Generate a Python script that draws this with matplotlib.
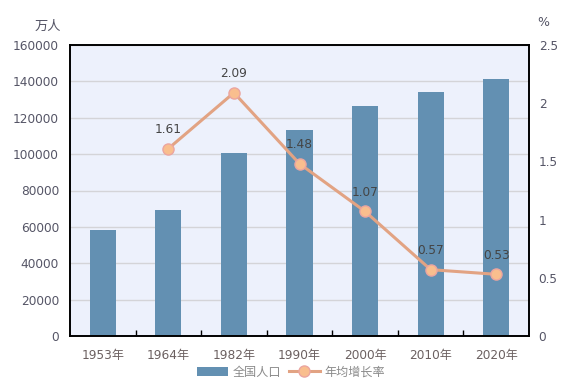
import matplotlib.pyplot as plt
import numpy as np

plt.rcParams['font.family'] = ['DejaVu Sans', 'Noto Sans CJK SC']

years = ['1953年', '1964年', '1982年', '1990年', '2000年', '2010年', '2020年']
population = [58260, 69458, 100818, 113368, 126583, 133972, 141178]
rate_idx = [1, 2, 3, 4, 5, 6]
growth = [1.61, 2.09, 1.48, 1.07, 0.57, 0.53]

BAR_COLOR = '#6390b2'
LINE_COLOR = '#e2a383'
MARK_FILL = '#f9be8e'
MARK_EDGE = '#eba5a0'
TEXT_COLOR = '#555566'

fig = plt.figure(figsize=(5.82, 3.92), dpi=100)
ax = fig.add_axes([70 / 582, 1 - 336 / 392, 459 / 582, 291 / 392])
ax.set_facecolor('#edf1fc')

x = np.arange(len(years))
ax.bar(x, population, width=0.4, color=BAR_COLOR, label='全国人口', zorder=2)
ax.set_xlim(-0.5, len(years) - 0.5)
ax.set_ylim(0, 160000)
ax.set_yticks(np.arange(0, 160001, 20000))
ax.grid(axis='y', color='#d4d4d8', linewidth=1, zorder=0)
ax.set_xticks(x)
ax.set_xticklabels(years)
ax.set_xticks(np.arange(0.5, len(years) - 1, 1), minor=True)
ax.tick_params(axis='x', which='major', length=0, pad=9, labelsize=8.7, labelcolor='#6b6060')
ax.tick_params(axis='x', which='minor', direction='in', length=4, width=1)
ax.tick_params(axis='y', length=0, pad=8, labelsize=8.7, labelcolor=TEXT_COLOR)
for s in ax.spines.values():
    s.set_color('black')
    s.set_linewidth(1.2)

ax2 = ax.twinx()
ax2.plot(rate_idx, growth, color=LINE_COLOR, linewidth=2.2, marker='o',
         markersize=8, markerfacecolor=MARK_FILL, markeredgecolor=MARK_EDGE,
         markeredgewidth=1, label='年均增长率', zorder=3)
for i, v in zip(rate_idx, growth):
    ax2.annotate(f'{v:.2f}', (i, v), xytext=(0, 9), textcoords='offset points',
                 ha='center', va='bottom', fontsize=8.7, color='#444444')
ax2.set_ylim(0, 2.5)
ax2.set_yticks([0, 0.5, 1, 1.5, 2, 2.5])
ax2.set_yticklabels(['0', '0.5', '1', '1.5', '2', '2.5'])
ax2.tick_params(axis='y', length=0, pad=7, labelsize=8.7, labelcolor=TEXT_COLOR)
for s in ax2.spines.values():
    s.set_color('black')
    s.set_linewidth(1.2)

fig.text(61 / 582, 1 - 26 / 392, '万人', ha='right', va='center', fontsize=9.5,
         color=TEXT_COLOR, family=['Noto Sans CJK SC', 'DejaVu Sans'])
fig.text(537 / 582, 1 - 22 / 392, '%', ha='left', va='center', fontsize=9, color=TEXT_COLOR)

h1, l1 = ax.get_legend_handles_labels()
h2, l2 = ax2.get_legend_handles_labels()
leg = fig.legend(h1 + h2, l1 + l2, loc='center', bbox_to_anchor=(0.5, 1 - 372 / 392),
                 ncol=2, frameon=False, handlelength=2.6,
                 columnspacing=0.6, handletextpad=0.4,
                 prop={'family': ['Noto Sans CJK SC', 'DejaVu Sans'], 'size': 8.7})
for t in leg.get_texts():
    t.set_color('#8a8a8a')

fig.savefig('out.png', dpi=100)
